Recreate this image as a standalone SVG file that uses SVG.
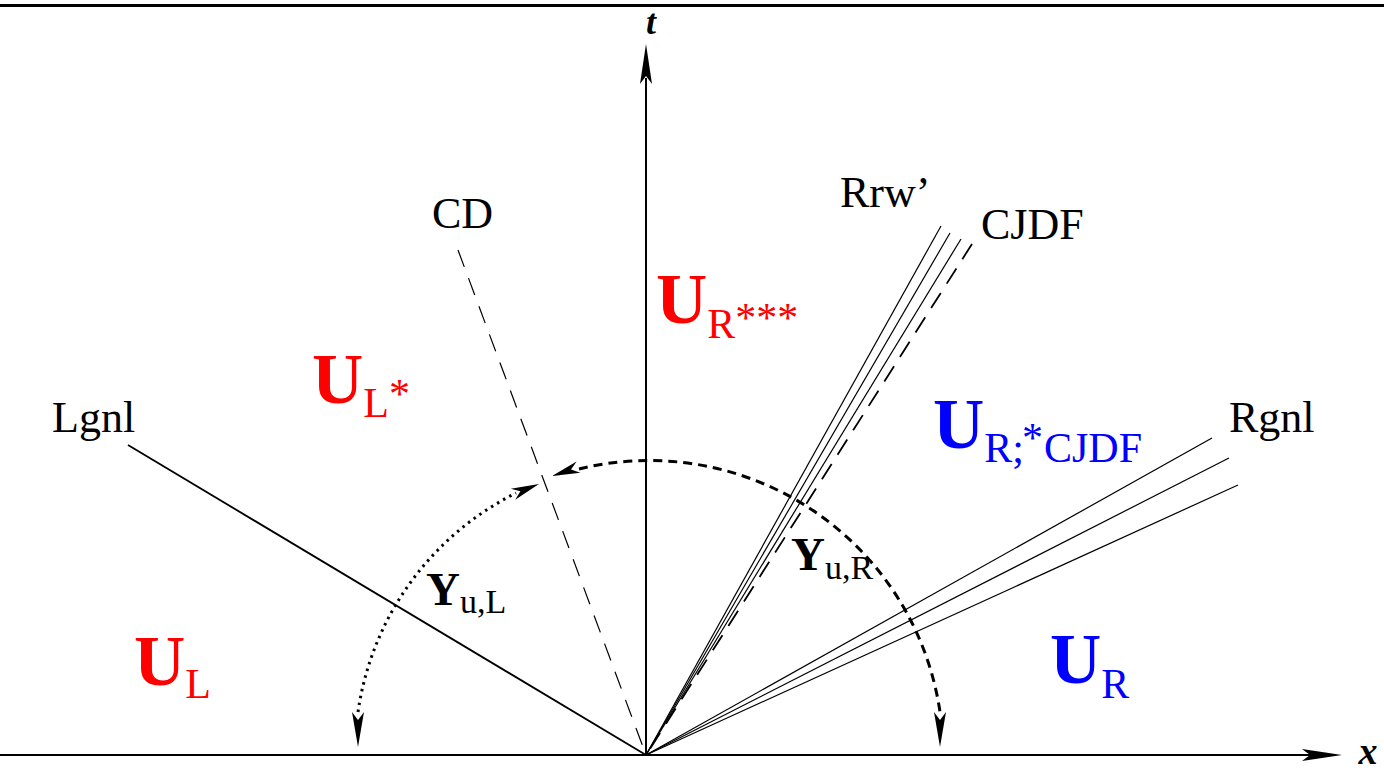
<svg xmlns="http://www.w3.org/2000/svg" width="1384" height="771" viewBox="0 0 1384 771">
<style>
.ln{stroke:#000;fill:none}
.lab{font-family:"Liberation Serif","Times New Roman",serif;font-size:44px;fill:#000}
.ax{font-family:"Liberation Serif","Times New Roman",serif;font-weight:bold;font-style:italic;fill:#000}
.st{font-family:"Liberation Serif","Times New Roman",serif;font-size:42px}
.big{font-weight:bold;font-size:71px}
.red{fill:#ff0000}
.blue{fill:#0000ff}
.ah{fill:#000;stroke:none}
.ang{font-family:"Liberation Serif","Times New Roman",serif;font-size:34px;fill:#000}
.angY{font-weight:bold;font-size:47px}
</style>
<rect x="0" y="0" width="1384" height="771" fill="#fff"/>
<line x1="0" y1="5.5" x2="1384" y2="5.5" stroke="#000" stroke-width="3"/>
<g id="connectors">
  <line class="ln" x1="0" y1="755" x2="1312" y2="755" stroke-width="2"/>
  <polygon class="ah" points="1342,755 1302,749 1310,755 1302,761"/>
  <line class="ln" x1="646" y1="755" x2="646" y2="78" stroke-width="2"/>
  <polygon class="ah" points="646,44 652,84 646,76 640,84"/>
  <line class="ln" x1="128" y1="445" x2="646" y2="755" stroke-width="1.8"/>
  <line class="ln" x1="458" y1="250" x2="646" y2="755" stroke-width="1.2" stroke-dasharray="18 12"/>
  <line class="ln" x1="646" y1="755" x2="941" y2="226" stroke-width="1.2"/>
  <line class="ln" x1="646" y1="755" x2="950" y2="233" stroke-width="1.2"/>
  <line class="ln" x1="646" y1="755" x2="961" y2="239" stroke-width="1.2"/>
  <line class="ln" x1="972" y1="244" x2="646" y2="755" stroke-width="1.8" stroke-dasharray="18 11"/>
  <line class="ln" x1="646" y1="755" x2="1212" y2="438" stroke-width="1.2"/>
  <line class="ln" x1="646" y1="755" x2="1229" y2="458" stroke-width="1.2"/>
  <line class="ln" x1="646" y1="755" x2="1238" y2="485" stroke-width="1.2"/>
  <path class="ln" d="M 358 712 A 291 291 0 0 1 516 493" stroke-width="3" stroke-dasharray="2.5 4.5"/>
  <polygon class="ah" points="358,747 364,712 358,720 352,712"/>
  <polygon class="ah" points="539,484 515.2,499.8 520.4,491.3 510.8,488.7"/>
  <path class="ln" d="M 579 469 A 294 294 0 0 1 940 712" stroke-width="3" stroke-dasharray="9 6"/>
  <polygon class="ah" points="552,476 580.4,472.8 571,469.6 576.6,461.4"/>
  <polygon class="ah" points="940,747 946,712 940,720 934,712"/>
</g>
<g id="axis-labels">
  <text class="ax" x="651" y="34" font-size="36" text-anchor="middle">t</text>
  <text class="ax" x="1368" y="764" font-size="38" text-anchor="middle">x</text>
</g>
<g id="wave-labels">
  <text class="lab" x="432" y="228">CD</text>
  <text class="lab" x="840" y="207">Rrw’</text>
  <text class="lab" x="981" y="239">CJDF</text>
  <text class="lab" x="52" y="432">Lgnl</text>
  <text class="lab" x="1229" y="432">Rgnl</text>
</g>
<g id="state-UL">
  <text class="st red" x="134" y="685"><tspan class="big">U</tspan><tspan dy="13">L</tspan></text>
</g>
<g id="state-ULstar">
  <text class="st red" x="312" y="403"><tspan class="big">U</tspan><tspan dy="14">L</tspan><tspan dy="-9">*</tspan></text>
</g>
<g id="state-URstar3">
  <text class="st red" x="656" y="323"><tspan class="big">U</tspan><tspan dy="15">R</tspan><tspan dy="-6">***</tspan></text>
</g>
<g id="state-URstarCJDF">
  <text class="st blue" x="933" y="448"><tspan class="big">U</tspan><tspan dy="14">R;</tspan><tspan dx="-2" dy="-10">*</tspan><tspan dx="1" dy="10">CJDF</tspan></text>
</g>
<g id="state-UR">
  <text class="st blue" x="1050" y="683"><tspan class="big">U</tspan><tspan dy="15">R</tspan></text>
</g>
<g id="angle-labels">
  <text class="ang" x="426" y="605"><tspan class="angY">Y</tspan><tspan dy="8">u,L</tspan></text>
  <text class="ang" x="791" y="570"><tspan class="angY">Y</tspan><tspan dy="9">u,R</tspan></text>
</g>
</svg>
